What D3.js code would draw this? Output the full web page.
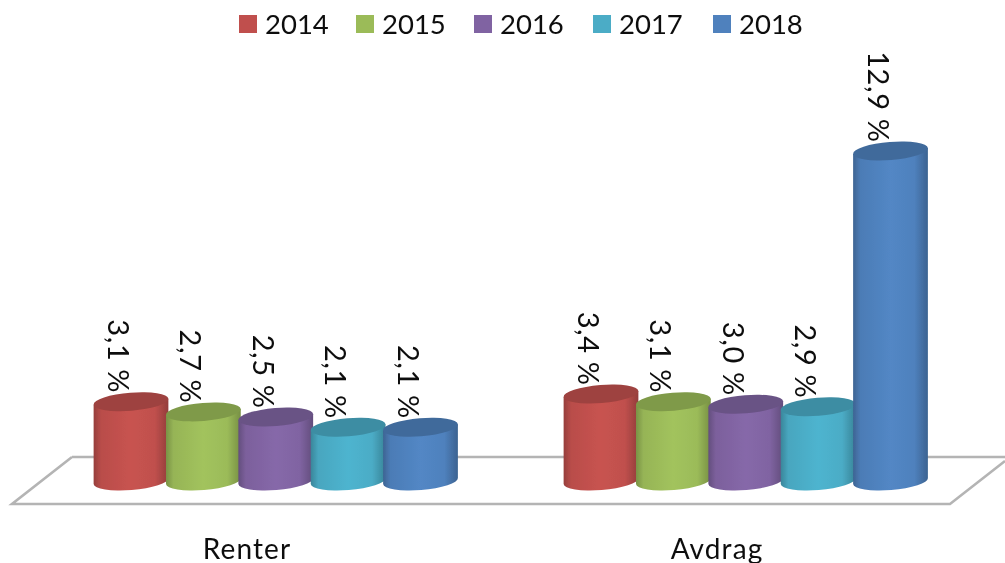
<!DOCTYPE html>
<html><head><meta charset="utf-8">
<script src="https://cdn.jsdelivr.net/npm/d3@7"></script>
<style>html,body{margin:0;padding:0;background:#fff}svg{display:block}text{font-family:Lato,"Open Sans",sans-serif;fill:#111}</style>
</head><body><svg id="c" width="1005" height="563"></svg>
<script>
const categories=["Renter","Avdrag"];
const years=["2014","2015","2016","2017","2018"];
const colors=["#c0504d","#9bbb59","#8064a2","#4bacc6","#4f81bd"];
const renter=[3.1,2.7,2.5,2.1,2.1];
const avdrag=[3.4,3.1,3.0,2.9,12.9];
const values=[renter,avdrag];
const svg=d3.select("#c");
const y=d3.scaleLinear().domain([0,12.9]).range([0,330]);
const x0=d3.scaleOrdinal().domain(categories).range([131,601]);
const x1=d3.scaleLinear().domain([0,4]).range([0,289.5]);
const legendX=d3.scaleOrdinal().domain(years).range([239,356,474,593,713]);
const base=481,r=37.5,ry=9,theta=-4.6,dx=r*Math.cos(theta*Math.PI/180),dy=r*Math.sin(theta*Math.PI/180);
const defs=svg.append("defs");
defs.append("filter").attr("id","soft").append("feGaussianBlur").attr("stdDeviation",0.55);
colors.forEach((c,i)=>{
 const col=d3.color(c);
 const g=defs.append("linearGradient").attr("id","g"+i);
 [[0,col.darker(.7)],[.1,col.darker(.1)],[.5,col.brighter(.12)],[.82,col],[1,col.darker(.75)]].forEach(s=>g.append("stop").attr("offset",s[0]).attr("stop-color",s[1]));
});
const root=svg.append("g").attr("filter","url(#soft)");
root.append("path").attr("d","M72,457H1005M72,457L12,504H950L1005,461").attr("fill","none").attr("stroke","#b4b4b4").attr("stroke-width",2.6);
years.forEach((yr,i)=>{
 root.append("rect").attr("x",legendX(yr)).attr("y",15).attr("width",18).attr("height",18).attr("fill",colors[i]);
 root.append("text").attr("x",legendX(yr)+26).attr("y",34).attr("font-size",27.5).text(yr);
});
categories.forEach((cat,ci)=>{
 root.append("text").attr("x",ci?717:247).attr("y",559).attr("text-anchor","middle").attr("font-size",28).attr("letter-spacing",1.1).text(cat);
 years.forEach((yr,i)=>{
  const v=values[ci][i],cx=x0(cat)+x1(i),h=y(v),t=base-h;
  const g=root.append("g");
  g.append("path").attr("d",`M${cx-dx},${t-dy}L${cx-dx},${base-dy}A${r},${ry} ${theta} 0 0 ${cx+dx},${base+dy}L${cx+dx},${t+dy}Z`).attr("fill",`url(#g${i})`);
  g.append("ellipse").attr("transform",`translate(${cx},${t}) rotate(${theta})`).attr("rx",r).attr("ry",ry).attr("fill",d3.color(colors[i]).darker(.55));
  const lab=d3.format(".1f")(v).replace(".",",")+" %";
  root.append("text").attr("transform",`translate(${cx-23},${t-8.5}) rotate(90)`).attr("text-anchor","end").attr("font-size",29).attr("letter-spacing",0.6).text(lab);
 });
});
</script></body></html>
